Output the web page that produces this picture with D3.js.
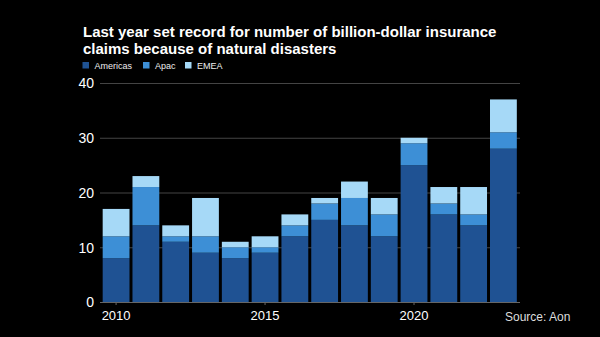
<!DOCTYPE html>
<html><head><meta charset="utf-8">
<script src="https://cdn.jsdelivr.net/npm/d3@7"></script>
<style>html,body{margin:0;padding:0;background:#000;}svg{display:block;}</style>
</head><body>
<svg id="chart" width="600" height="337"></svg>
<script>
const years = [2010,2011,2012,2013,2014,2015,2016,2017,2018,2019,2020,2021,2022,2023];
const americas = [8,14,11,9,8,9,12,15,14,12,25,16,14,28];
const apac     = [4,7,1,3,2,1,2,3,5,4,4,2,2,3];
const emea     = [5,2,2,7,1,2,2,1,3,3,1,3,5,6];
const seriesNames = ["Americas","Apac","EMEA"];
const colors = ["#1f5293","#3d8fd6","#a6d9f7"];
const yTicks = [0,10,20,30,40];
const xTickLabels = [2010,2015,2020];

const svg = d3.select("#chart");
svg.append("rect").attr("width",600).attr("height",337).attr("fill","#000");

const font = "'Liberation Sans', Arial, sans-serif";

const x = d3.scaleBand().domain(years).range([100,519.5]).paddingInner(0.1).paddingOuter(0.09);
const y = d3.scaleLinear().domain([0,40]).range([302,83]);

// title
const title = svg.append("text").attr("x",83).attr("y",37).attr("fill","#fff")
  .attr("font-family",font).attr("font-size",15).attr("font-weight",700);
title.append("tspan").attr("x",83).attr("y",37).text("Last year set record for number of billion-dollar insurance");
title.append("tspan").attr("x",83).attr("y",54).text("claims because of natural disasters");

// legend
const legX = [82.5,143,185];
seriesNames.forEach((n,i)=>{
  svg.append("rect").attr("x",legX[i]).attr("y",62).attr("width",6.5).attr("height",6.5).attr("fill",colors[i]);
  svg.append("text").attr("x",legX[i]+12).attr("y",68.5).attr("fill","#eee")
    .attr("font-family",font).attr("font-size",9).text(n);
});

// gridlines + y axis
const yAxis = d3.axisLeft(y).tickValues(yTicks).tickSize(-420).tickPadding(6);
const gy = svg.append("g").attr("transform","translate(100,0)").call(yAxis);
gy.select(".domain").remove();
gy.selectAll(".tick line").attr("stroke",d=>d===0?"#666":"#444").attr("stroke-width",1);
gy.selectAll(".tick text").attr("fill","#fff").attr("font-family",font).attr("font-size",14).attr("x",-6).attr("dy","0.35em");

// stacked bars
const table = years.map((yr,i)=>({year:yr, Americas:americas[i], Apac:apac[i], EMEA:emea[i]}));
const stack = d3.stack().keys(seriesNames)(table);
svg.append("g").selectAll("g").data(stack).join("g").attr("fill",(d,i)=>colors[i])
  .selectAll("rect").data(d=>d).join("rect")
  .attr("x",d=>x(d.data.year)).attr("width",x.bandwidth())
  .attr("y",d=>y(d[1])).attr("height",d=>y(d[0])-y(d[1]));

// x axis
const xAxis = d3.axisBottom(x).tickValues(xTickLabels).tickSize(3).tickPadding(6);
const gx = svg.append("g").attr("transform","translate(0,302)").call(xAxis);
gx.select(".domain").remove();
gx.selectAll(".tick line").attr("stroke","#666");
gx.selectAll(".tick text").attr("fill","#fff").attr("font-family",font).attr("font-size",13);

// source
svg.append("text").attr("x",505).attr("y",321).attr("fill","#ddd")
  .attr("font-family",font).attr("font-size",12).text("Source: Aon");
</script>
</body></html>
